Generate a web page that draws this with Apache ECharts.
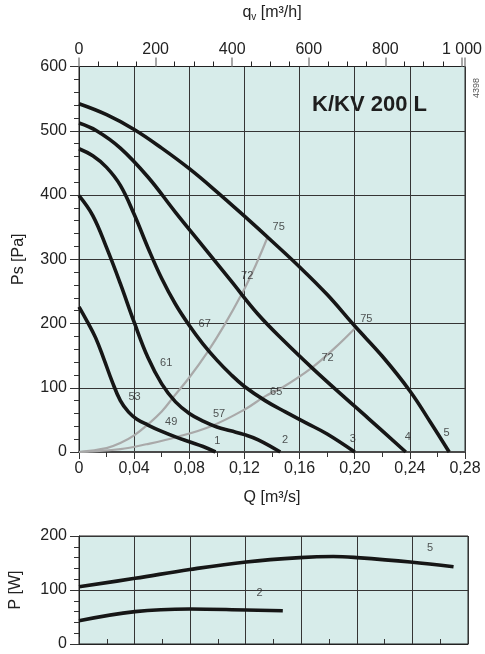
<!DOCTYPE html>
<html>
<head>
<meta charset="utf-8">
<script src="https://cdn.jsdelivr.net/npm/echarts@6/dist/echarts.min.js"></script>
<style>
html,body{margin:0;padding:0;background:#fff;}
#chart{width:485px;height:654px;}
</style>
</head>
<body>
<div id="chart"></div>
<script>
// ---- data (Q in m³/s, Ps in Pa, P in W) ----
const fan1Q  = [0, 0.006, 0.012, 0.018, 0.024, 0.03, 0.036, 0.042, 0.05, 0.06, 0.07, 0.08, 0.09, 0.099];
const fan1Ps = [226, 203, 178, 145, 110, 80, 62, 51, 42, 32, 23.5, 16, 8.5, 0];
const fan2Q  = [0, 0.01, 0.02, 0.03, 0.04, 0.05, 0.06, 0.07, 0.08, 0.09, 0.1, 0.11, 0.12, 0.13, 0.146];
const fan2Ps = [399, 368, 318, 262, 202, 147, 106, 78, 60, 48, 39, 33, 27, 19, 0];
const fan3Q  = [0, 0.01, 0.02, 0.03, 0.04, 0.05, 0.06, 0.07, 0.08, 0.09, 0.1, 0.11, 0.12, 0.135, 0.15, 0.165, 0.18, 0.2];
const fan3Ps = [472, 461, 443, 415, 370, 318, 270, 230, 197, 168, 143, 121, 102, 80, 62, 45, 28, 0];
const fan4Q  = [0, 0.0127, 0.03, 0.05, 0.07, 0.09, 0.11, 0.13, 0.15, 0.17, 0.19, 0.21, 0.237];
const fan4Ps = [512, 500, 473, 428, 373, 320, 267, 214, 170, 129, 90, 52, 0];
const fan5Q  = [0, 0.02, 0.04, 0.06, 0.08, 0.1, 0.12, 0.14, 0.16, 0.18, 0.2, 0.22, 0.24, 0.255, 0.2685];
const fan5Ps = [542, 525, 502, 473, 441, 405, 367, 328, 288, 245, 196, 149, 95, 46, 0];
const sys1Q  = [0, 0.02, 0.03, 0.04, 0.05, 0.06, 0.069, 0.08, 0.0927, 0.105, 0.1183, 0.128, 0.1369];
const sys1Ps = [0, 6, 14, 26, 43, 63, 87, 116, 154, 196, 247, 290, 335];
const sys2Q  = [0, 0.03, 0.0488, 0.0704, 0.0967, 0.1208, 0.1352, 0.1472, 0.1688, 0.1856, 0.2004];
const sys2Ps = [0, 4.5, 12, 23, 41, 67, 87, 100, 131, 162, 193];
const pow5Q  = [0, 0.0403, 0.0797, 0.1203, 0.159, 0.183, 0.2, 0.2384, 0.2696];
const pow5P  = [106, 121.6, 138, 152, 160, 162, 160, 152, 143];
const pow2Q  = [0, 0.0403, 0.0797, 0.1203, 0.1467];
const pow2P  = [43, 60, 64.8, 63, 61.7];
// efficiency labels
const effText = ['53', '49', '61', '57', '67', '65', '72', '72', '75', '75'];
const effQ    = [0.0403, 0.0669, 0.0632, 0.1016, 0.0912, 0.143, 0.122, 0.1803, 0.1448, 0.2084];
const effPs   = [86, 47, 139, 59, 200, 93, 274, 147, 351, 207];
// speed step labels
const stepText = ['1', '2', '3', '4', '5'];
const stepQ    = [0.1004, 0.1495, 0.1986, 0.2384, 0.2666];
const stepPs   = [17, 18, 21, 24, 30];
const powText = ['5', '2'];
const powQ    = [0.2527, 0.13];
const powP    = [177, 94];
// axes
const qMax = 0.28, qStep = 0.04;
const psMax = 600, psStep = 100;
const qvMax = 1008, qvStep = 200;
const pMax = 200, pStep = 100;

const zip = (a, b) => a.map((v, i) => [v, b[i]]);
const font = 'Liberation Sans, Arial, sans-serif';
const bg = '#d7ecea';
const gridLine = '#353535';

function fanSeries(q, p, xi, yi) {
  return { type: 'line', xAxisIndex: xi, yAxisIndex: yi, data: zip(q, p), smooth: 0.4,
    symbol: 'none', lineStyle: { color: '#161616', width: 3.6 }, z: 5 };
}
function sysSeries(q, p) {
  return { type: 'line', xAxisIndex: 0, yAxisIndex: 0, data: zip(q, p), smooth: 0.4,
    symbol: 'none', lineStyle: { color: '#a9a9a9', width: 2.2 }, z: 4 };
}
function labelSeries(q, p, t, xi, yi) {
  return { type: 'scatter', xAxisIndex: xi, yAxisIndex: yi, symbolSize: 0, silent: true, z: 8,
    data: q.map((v, i) => ({ value: [v, p[i]], name: t[i] })),
    label: { show: true, position: 'inside', formatter: '{b}', color: '#2a2a2a', fontSize: 11, fontFamily: font } };
}
const qFmt = v => (Math.abs(v) < 1e-9 ? '0' : v.toFixed(2).replace('.', ','));

const chart = echarts.init(document.getElementById('chart'), null, { renderer: 'canvas' });
chart.setOption({
  animation: false,
  backgroundColor: '#ffffff',
  grid: [
    { left: 79, top: 63, right: 17, height: 389, show: true, backgroundColor: bg, borderColor: '#222', borderWidth: 1 },
    { left: 79, top: 536, right: 17, height: 108, show: true, backgroundColor: bg, borderColor: '#222', borderWidth: 1 }
  ],
  xAxis: [
    { type: 'value', gridIndex: 0, position: 'bottom', min: 0, max: qMax, interval: qStep,
      name: 'Q [m³/s]', nameLocation: 'middle', nameGap: 38,
      nameTextStyle: { fontSize: 16, color: '#222', fontFamily: font },
      axisLine: { show: true, lineStyle: { color: '#4a4a4a', width: 2 } },
      axisTick: { show: true, length: 7, lineStyle: { color: '#333' } },
      minorTick: { show: true, splitNumber: 2, length: 5, lineStyle: { color: '#333' } },
      axisLabel: { formatter: qFmt, fontSize: 16, color: '#222', margin: 9, fontFamily: font },
      splitLine: { show: true, lineStyle: { color: gridLine, width: 1 } } },
    { type: 'value', gridIndex: 0, position: 'top', min: 0, max: qvMax, interval: qvStep,
      name: '{a|q}{b|v}{a| [m³/h]}', nameLocation: 'middle', nameGap: 44,
      nameTextStyle: { color: '#222', fontFamily: font,
        rich: { a: { fontSize: 16, color: '#222', fontFamily: font },
                b: { fontSize: 10, color: '#222', fontFamily: font, padding: [9, 0, 0, 0] } } },
      axisLine: { show: true, lineStyle: { color: '#222', width: 1 } },
      axisTick: { show: true, length: 9, lineStyle: { color: '#8a8a8a', width: 1.5 } },
      minorTick: { show: true, splitNumber: 4, length: 5, lineStyle: { color: '#222' } },
      axisLabel: { formatter: v => (v % 200 === 0 ? (v === 1000 ? '1 000' : String(v)) : ''),
        fontSize: 16, color: '#222', margin: 9, fontFamily: font },
      splitLine: { show: false } },
    { type: 'value', gridIndex: 1, position: 'top', min: 0, max: qMax, interval: qStep,
      axisLine: { show: true, lineStyle: { color: '#222', width: 1 } },
      axisTick: { show: true, length: 7, lineStyle: { color: '#333' } },
      minorTick: { show: true, splitNumber: 2, length: 5, lineStyle: { color: '#333' } },
      axisLabel: { show: false },
      splitLine: { show: true, lineStyle: { color: gridLine, width: 1 } } }
  ],
  yAxis: [
    { type: 'value', gridIndex: 0, min: 0, max: psMax, interval: psStep,
      name: 'Ps [Pa]', nameLocation: 'middle', nameGap: 52, nameRotate: 90,
      nameTextStyle: { fontSize: 16, color: '#222', fontFamily: font },
      axisLine: { show: true, lineStyle: { color: '#222', width: 1 } },
      axisTick: { show: true, length: 9, lineStyle: { color: '#333' } },
      minorTick: { show: true, splitNumber: 5, length: 5, lineStyle: { color: '#333' } },
      axisLabel: { fontSize: 16, color: '#222', margin: 12, fontFamily: font },
      splitLine: { show: true, lineStyle: { color: gridLine, width: 1 } } },
    { type: 'value', gridIndex: 1, min: 0, max: pMax, interval: pStep,
      name: 'P [W]', nameLocation: 'middle', nameGap: 55, nameRotate: 90,
      nameTextStyle: { fontSize: 16, color: '#222', fontFamily: font },
      axisLine: { show: true, lineStyle: { color: '#222', width: 1 } },
      axisTick: { show: true, length: 9, lineStyle: { color: '#333' } },
      minorTick: { show: true, splitNumber: 5, length: 5, lineStyle: { color: '#333' } },
      axisLabel: { fontSize: 16, color: '#222', margin: 12, fontFamily: font },
      splitLine: { show: true, lineStyle: { color: gridLine, width: 1 } } }
  ],
  graphic: [
    { type: 'text', left: 312, top: 94, style: { text: 'K/KV 200 L', font: 'bold 22px ' + font, fill: '#1e1e1e' }, z: 10 },
    { type: 'text', x: 477, y: 88, rotation: Math.PI / 2,
      style: { text: '4398', font: '9px ' + font, fill: '#555', align: 'center', verticalAlign: 'middle' }, z: 10 }
  ],
  series: [
    sysSeries(sys1Q, sys1Ps),
    sysSeries(sys2Q, sys2Ps),
    fanSeries(fan1Q, fan1Ps, 0, 0),
    fanSeries(fan2Q, fan2Ps, 0, 0),
    fanSeries(fan3Q, fan3Ps, 0, 0),
    fanSeries(fan4Q, fan4Ps, 0, 0),
    fanSeries(fan5Q, fan5Ps, 0, 0),
    labelSeries(effQ, effPs, effText, 0, 0),
    labelSeries(stepQ, stepPs, stepText, 0, 0),
    fanSeries(pow5Q, pow5P, 2, 1),
    fanSeries(pow2Q, pow2P, 2, 1),
    labelSeries(powQ, powP, powText, 2, 1)
  ]
});
</script>
</body>
</html>
